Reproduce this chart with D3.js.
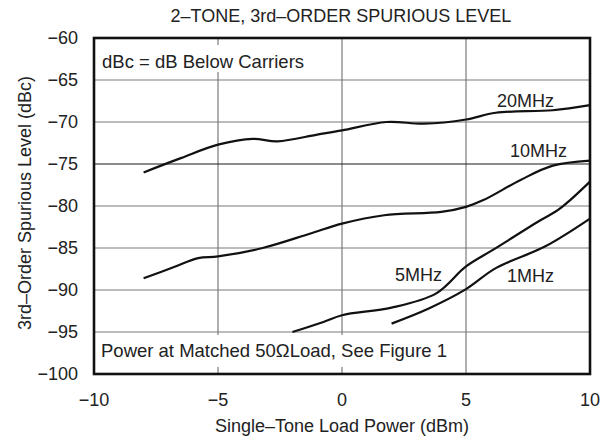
<!DOCTYPE html>
<html>
<head>
<meta charset="utf-8">
<script src="https://cdn.jsdelivr.net/npm/d3@7"></script>
<style>
  html, body { margin: 0; padding: 0; background: #fff; }
  svg { display: block; font-family: "Liberation Sans", Arial, Helvetica, sans-serif; }
</style>
</head>
<body>
<svg id="chart" width="613" height="441"></svg>
<script>
// ---- data ----
const xTicks = [-10, -5, 0, 5, 10];
const yTicks = [-100, -95, -90, -85, -80, -75, -70, -65, -60];

const x20 = [-8, -6.5, -5, -3.6, -2.6, -1, 0, 1.8, 3.3, 5, 6.2, 8.5, 10];
const y20 = [-76, -74.3, -72.7, -72.0, -72.3, -71.5, -71.0, -70.0, -70.2, -69.7, -68.9, -68.6, -68.0];

const x10 = [-8, -6.8, -5.8, -5, -3.2, -1.3, 0, 1.7, 4, 5, 5.7, 7.2, 8.5, 10];
const y10 = [-88.6, -87.3, -86.2, -86.0, -85.0, -83.3, -82.1, -81.1, -80.7, -80.1, -79.3, -76.9, -75.2, -74.6];

const x5 = [-2, -0.75, 0, 2, 3.8, 5, 6.1, 8, 8.7, 9.2, 10];
const y5 = [-95.0, -93.8, -93.0, -92.1, -90.4, -87.2, -85.2, -81.7, -80.5, -79.3, -77.1];

const x1 = [2, 3.5, 5, 6.2, 8.2, 10];
const y1 = [-94.0, -92.2, -89.9, -87.4, -84.8, -81.5];

const seriesNames = ["20MHz", "10MHz", "5MHz", "1MHz"];
const labelX = [6.25, 6.77, 2.14, 6.65];
const labelY = [-68.2, -74.2, -88.9, -89.05];

const title = "2–TONE, 3rd–ORDER SPURIOUS LEVEL";
const xTitle = "Single–Tone Load Power (dBm)";
const yTitle = "3rd–Order Spurious Level (dBc)";
const note1 = "dBc = dB Below Carriers";
const note2 = "Power at Matched 50\u03A9Load, See Figure 1";

// ---- layout ----
const svg = d3.select("#chart");
const L = 94, R = 590, T = 38, B = 374;
const x = d3.scaleLinear().domain([-10, 10]).range([L, R]);
const y = d3.scaleLinear().domain([-100, -60]).range([B, T]);
const FS = 18;
const TXT = "#222";

// grid
const grid = svg.append("g");
grid.selectAll("line.v").data(xTicks.slice(1, -1)).join("line")
  .attr("x1", d => x(d)).attr("x2", d => x(d)).attr("y1", T).attr("y2", B)
  .attr("stroke", "#7a7a7a").attr("stroke-width", 1.2);
grid.selectAll("line.h").data(yTicks.slice(1, -1)).join("line")
  .attr("x1", L).attr("x2", R).attr("y1", d => y(d)).attr("y2", d => y(d))
  .attr("stroke", d => d === -75 ? "#1a1a1a" : "#7a7a7a").attr("stroke-width", 1.2);

// notes with white background
svg.append("rect").attr("x", L + 2).attr("y", 45).attr("width", 216).attr("height", 27).attr("fill", "#fff");
svg.append("text").attr("x", 102).attr("y", 68).attr("font-size", 18.5).attr("fill", TXT).text(note1);
svg.append("rect").attr("x", L + 2).attr("y", 335).attr("width", 360).attr("height", 32).attr("fill", "#fff");
svg.append("text").attr("x", 101).attr("y", 357).attr("font-size", 18.5).attr("fill", TXT).text(note2);

// curves
const line = d3.line().x(d => x(d[0])).y(d => y(d[1])).curve(d3.curveCatmullRom.alpha(0.5));
const series = [[x20, y20], [x10, y10], [x5, y5], [x1, y1]].map(([xs, ys]) => xs.map((v, i) => [v, ys[i]]));
svg.append("g").selectAll("path").data(series).join("path")
  .attr("d", line).attr("fill", "none").attr("stroke", "#111").attr("stroke-width", 2.2);

// series labels
svg.append("g").selectAll("text").data(seriesNames).join("text")
  .attr("x", (d, i) => x(labelX[i])).attr("y", (d, i) => y(labelY[i]))
  .attr("font-size", FS).attr("fill", TXT).text(d => d);

// frame
svg.append("rect").attr("x", L).attr("y", T).attr("width", R - L).attr("height", B - T)
  .attr("fill", "none").attr("stroke", "#111").attr("stroke-width", 2.6);

// axes labels
const fmt = d3.format("d");
svg.append("g").selectAll("text").data(yTicks).join("text")
  .attr("x", L - 16).attr("y", d => y(d)).attr("dy", "0.36em")
  .attr("text-anchor", "end").attr("font-size", FS).attr("fill", TXT).text(d => fmt(d));
svg.append("g").selectAll("text").data(xTicks).join("text")
  .attr("x", d => x(d)).attr("y", 406)
  .attr("text-anchor", "middle").attr("font-size", FS).attr("fill", TXT).text(d => fmt(d));

svg.append("text").attr("x", 341).attr("y", 22).attr("text-anchor", "middle")
  .attr("font-size", FS).attr("fill", TXT).text(title);
svg.append("text").attr("x", 342).attr("y", 432).attr("text-anchor", "middle")
  .attr("font-size", FS).attr("fill", TXT).text(xTitle);
svg.append("text").attr("transform", "translate(31,203) rotate(-90)").attr("text-anchor", "middle")
  .attr("font-size", FS).attr("fill", TXT).text(yTitle);
</script>
</body>
</html>
